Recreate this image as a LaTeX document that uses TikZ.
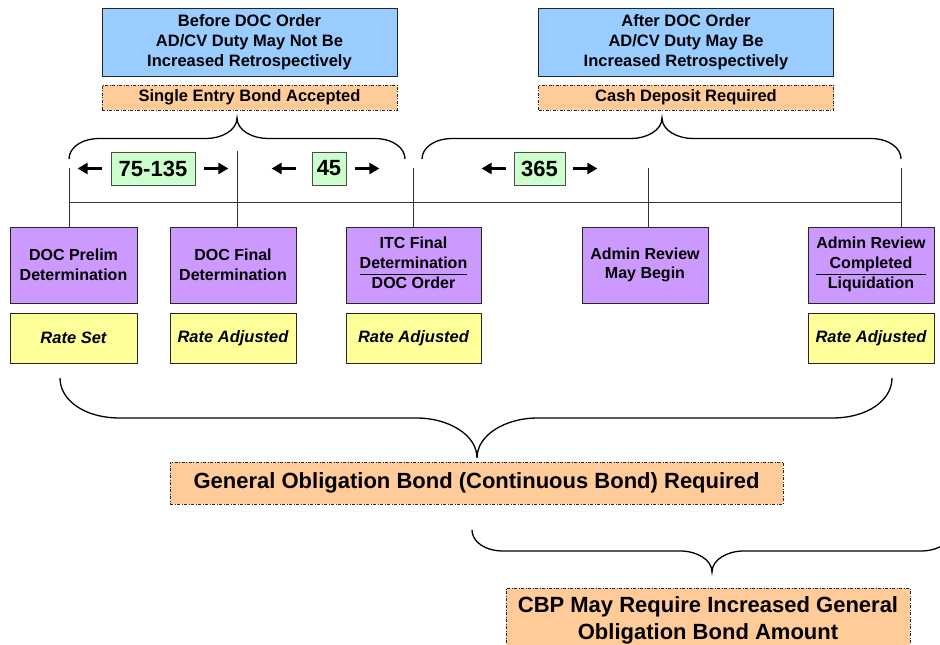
\documentclass[tikz,border=0pt]{standalone}
\usepackage{fontspec}
\setmainfont{Liberation Sans}
\usetikzlibrary{positioning}
\usetikzlibrary{arrows.meta}
\definecolor{periodblue}{RGB}{153,204,255}
\definecolor{bondorange}{RGB}{255,204,153}
\definecolor{eventpurple}{RGB}{204,153,255}
\definecolor{rateyellow}{RGB}{255,255,153}
\definecolor{daysgreen}{RGB}{204,255,204}
\tikzset{period/.style={draw=black!85, fill=periodblue, line width=1pt, align=center, inner sep=0pt,
  minimum width=295pt, minimum height=68pt, font=\fontsize{16.5}{20}\selectfont\bfseries}}
\tikzset{bond/.style={draw=black!85, fill=bondorange, line width=0.8pt, align=center, inner sep=0pt,
  dash pattern=on 3pt off 1.5pt on 1pt off 1.5pt}}
\tikzset{event/.style={draw=black!85, fill=eventpurple, line width=1pt, align=center, inner sep=0pt,
  minimum width=126pt, minimum height=76pt, font=\fontsize{16}{19.5}\selectfont\bfseries}}
\tikzset{rate/.style={draw=black!85, fill=rateyellow, line width=1pt, inner sep=0pt,
  minimum width=126pt, minimum height=50pt, font=\fontsize{16.5}{20}\selectfont\bfseries\itshape}}
\tikzset{days/.style={draw=black!70, fill=daysgreen, line width=0.8pt, inner sep=0pt,
  minimum height=33pt, font=\fontsize{22}{24}\selectfont\bfseries}}
\tikzset{dur/.style={-{Triangle[length=10pt,width=11pt]}, line width=3pt}}
\tikzset{tick/.style={draw=black!80, line width=1pt}}
\tikzset{brace line/.style={line width=1.3pt}}

% curly brace: left x, right x, tip x, end y, tip y
\newcommand{\timebrace}[5]{%
  \pgfmathsetmacro\brh{(#4-#5)/2}
  \pgfmathsetmacro\brm{(#4+#5)/2}
  \pgfmathsetmacro\brr{1.5*abs(\brh)}
  \draw[brace line] (#1,#4) .. controls (#1,\brm+0.45*\brh) and (#1+0.4*\brr,\brm) .. (#1+\brr,\brm)
    -- (#3-\brr,\brm) .. controls (#3-0.5*\brr,\brm) and (#3,\brm-0.4*\brh) .. (#3,#5)
    .. controls (#3,\brm-0.4*\brh) and (#3+0.5*\brr,\brm) .. (#3+\brr,\brm)
    -- (#2-\brr,\brm) .. controls (#2-0.4*\brr,\brm) and (#2,\brm+0.45*\brh) .. (#2,#4);
}

\begin{document}
\begin{tikzpicture}[x=1pt, y=-1pt]
\clip (0,0) rectangle (940,645);

% periods before and after the order
\node (before) [period] at (249.5,42) {Before DOC Order\\AD/CV Duty May Not Be\\Increased Retrospectively};
\node (beforebond) [bond, below=8pt of before, minimum width=295pt, minimum height=25pt,
  font=\fontsize{16.5}{20}\selectfont\bfseries] {Single Entry Bond Accepted};
\node (after) [period] at (686,42) {After DOC Order\\AD/CV Duty May Be\\Increased Retrospectively};
\node (afterbond) [bond, below=8pt of after, minimum width=295pt, minimum height=25pt,
  font=\fontsize{16.5}{20}\selectfont\bfseries] {Cash Deposit Required};

\timebrace{69}{405}{237}{159}{118}
\timebrace{422}{901}{662}{159}{118}

% time line
\coordinate (t1) at (69,168);
\coordinate (t2) at (237,151);
\coordinate (t3) at (413,168);
\coordinate (t4) at (648,168);
\coordinate (t5) at (901,168);
\draw[tick] (69,202) coordinate (line0) -- (901,202) coordinate (line1);

\node (g1) [days, minimum width=84pt] at (153,168.5) {75-135};
\node (g2) [days, minimum width=34pt] at (329,168.5) {45};
\node (g3) [days, minimum width=51pt] at (539.5,168.5) {365};
\draw[dur] ([xshift=-9pt]g1.west) -- ([xshift=-33pt]g1.west);
\draw[dur] ([xshift=9pt]g1.east) -- ([xshift=33pt]g1.east);
\draw[dur] ([xshift=-16pt]g2.west) -- ([xshift=-40pt]g2.west);
\draw[dur] ([xshift=9pt]g2.east) -- ([xshift=33pt]g2.east);
\draw[dur] ([xshift=-8pt]g3.west) -- ([xshift=-32pt]g3.west);
\draw[dur] ([xshift=8pt]g3.east) -- ([xshift=32pt]g3.east);

% events
\node (p1) [event, minimum width=127pt] at (73.5,265) {DOC Prelim\\Determination};
\node (p2) [event] at (233,265) {DOC Final\\Determination};
\node (p3) [event, minimum width=135pt] at (413.5,265)
  {\setlength{\arrayrulewidth}{1pt}\begin{tabular}{@{}c@{}}ITC Final\\Determination\\\hline DOC Order\end{tabular}};
\node (p4) [event] at (645,265) {Admin Review\\May Begin};
\node (p5) [event] at (871,265)
  {\setlength{\arrayrulewidth}{1pt}\begin{tabular}{@{}c@{}}Admin Review\\Completed\\\hline Liquidation\end{tabular}};

\draw[tick] (t1) -- (t1 |- p1.north);
\draw[tick] (t2) -- (t2 |- p2.north);
\draw[tick] (t3) -- (t3 |- p3.north);
\draw[tick] (t4) -- (t4 |- p4.north);
\draw[tick] (t5) -- (t5 |- p5.north);

\node (r1) [rate, below=9pt of p1, minimum width=127pt] {Rate Set};
\node (r2) [rate, below=9pt of p2] {Rate Adjusted};
\node (r3) [rate, below=9pt of p3, minimum width=135pt] {Rate Adjusted};
\node (r5) [rate, below=9pt of p5] {Rate Adjusted};

% bonds over the whole period
\timebrace{60}{892}{477}{378}{458}
\node (general) [bond, minimum width=613pt, minimum height=42pt,
  font=\fontsize{22}{27}\selectfont\bfseries] at (476.5,483) {General Obligation Bond (Continuous Bond) Required};
\timebrace{472}{952}{712}{530}{572}
\node (cbp) [bond, minimum width=404pt, minimum height=64pt,
  font=\fontsize{22}{27}\selectfont\bfseries] at (708,620) {CBP May Require Increased General\\Obligation Bond Amount};
\end{tikzpicture}
\end{document}
